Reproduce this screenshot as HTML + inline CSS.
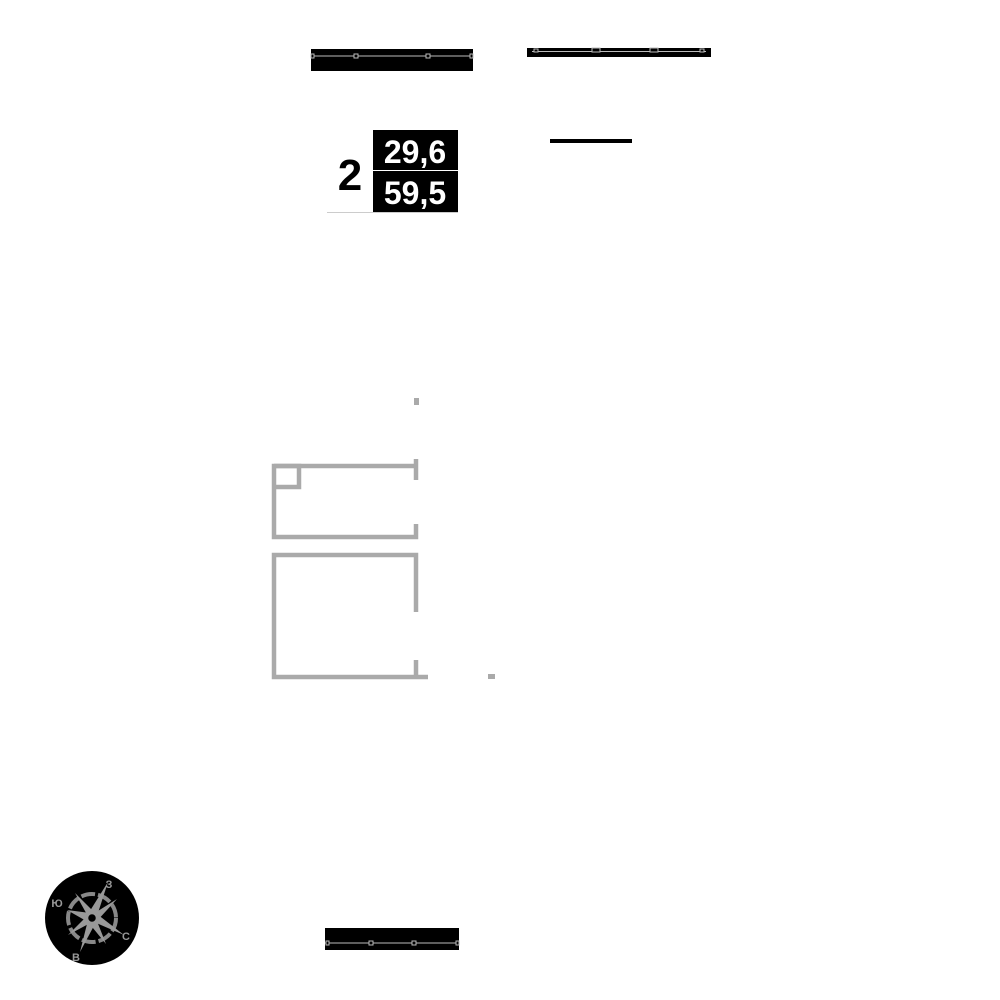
<!DOCTYPE html>
<html><head><meta charset="utf-8"><style>body{margin:0;background:#fff}svg{display:block}</style></head><body>
<svg width="1000" height="1000" viewBox="0 0 1000 1000" xmlns="http://www.w3.org/2000/svg">
<!-- top left bar -->
<rect x="311" y="49" width="162" height="22" fill="#000"/>
<line x1="311" y1="56" x2="473" y2="56" stroke="#bbb" stroke-width="1"/>
<g fill="#000" stroke="#bbb" stroke-width="1">
<rect x="311" y="54" width="3" height="4"/><rect x="354" y="54" width="4" height="4"/><rect x="426" y="54" width="4" height="4"/><rect x="470" y="54" width="3" height="4"/></g>
<!-- top right bar -->
<rect x="527" y="48" width="184" height="9" fill="#000"/>
<line x1="532" y1="51.5" x2="706" y2="51.5" stroke="#bbb" stroke-width="1"/>
<g fill="#000" stroke="#bbb" stroke-width="1">
<rect x="592" y="48" width="8" height="4"/><rect x="650" y="48" width="8" height="4"/><rect x="534" y="49" width="4" height="3"/><rect x="700" y="49" width="4" height="3"/></g>
<!-- label -->
<line x1="327" y1="212.5" x2="458" y2="212.5" stroke="#ccc"/>
<text x="350" y="190" font-family="Liberation Sans, sans-serif" font-weight="bold" font-size="44" text-anchor="middle">2</text>
<rect x="373" y="130" width="85" height="40" fill="#000"/>
<rect x="373" y="171" width="85" height="41" fill="#000"/>
<text x="415" y="163" font-family="Liberation Sans, sans-serif" font-weight="bold" font-size="32" fill="#fff" text-anchor="middle">29,6</text>
<text x="415" y="204" font-family="Liberation Sans, sans-serif" font-weight="bold" font-size="32" fill="#fff" text-anchor="middle">59,5</text>
<!-- short line -->
<rect x="550" y="139" width="82" height="4" fill="#000"/>
<!-- plan -->
<g stroke="#aaa" stroke-width="4.5" fill="none">
<polyline points="416,466 274,466 274,537 416,537 416,524"/>
<polyline points="274,466 299,466 299,487 274,487"/>
<line x1="416" y1="459" x2="416" y2="480"/>
<polyline points="416,612 416,555 274,555 274,677 428,677"/>
<line x1="416" y1="660" x2="416" y2="677"/>
</g>
<rect x="414" y="398" width="5" height="7" fill="#aaa"/>
<rect x="488" y="674" width="7" height="5" fill="#aaa"/>
<!-- compass -->
<circle cx="92" cy="918" r="47" fill="#000"/>
<circle cx="92" cy="918" r="24" fill="none" stroke="#888" stroke-width="4" stroke-dasharray="14 3"/>
<g fill="#999">
<polygon points="108,882 97,916 88,914"/><polygon points="67,910 90,913 88,922"/><polygon points="124,935 94,922 97,914"/><polygon points="80,952 88,920 96,922"/>
<polygon points="75,893 96,914 90,920"/><polygon points="117,899 96,922 90,916"/><polygon points="106,944 88,922 95,916"/><polygon points="68,935 89,914 94,921"/>
</g>
<circle cx="92" cy="918" r="5" fill="#000" stroke="#999" stroke-width="2.5"/>
<g font-family="Liberation Sans, sans-serif" font-weight="bold" font-size="11" fill="#999" text-anchor="middle">
<text x="109" y="888">З</text><text x="57" y="907">Ю</text><text x="126" y="940">С</text><text x="76" y="961">В</text></g>
<!-- bottom bar -->
<rect x="325" y="928" width="134" height="22" fill="#000"/>
<line x1="325" y1="943" x2="459" y2="943" stroke="#bbb"/>
<g fill="#000" stroke="#bbb" stroke-width="1">
<rect x="326" y="941" width="3" height="4"/><rect x="369" y="941" width="4" height="4"/><rect x="412" y="941" width="4" height="4"/><rect x="456" y="941" width="3" height="4"/></g>
</svg>
</body></html>
